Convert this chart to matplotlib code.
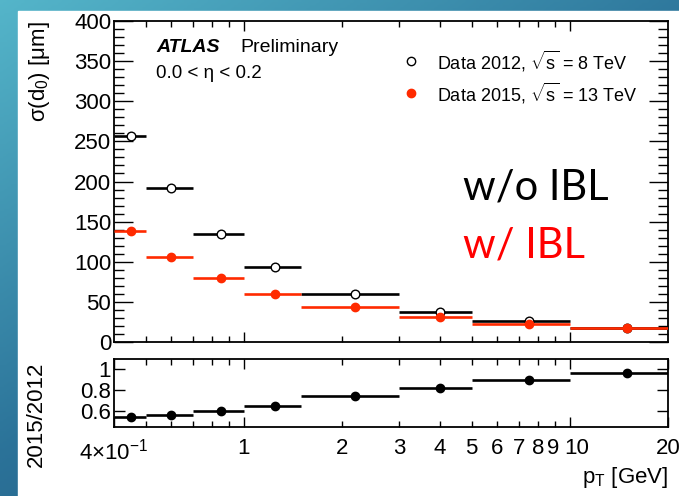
import numpy as np
import matplotlib
matplotlib.use("Agg")
import matplotlib.pyplot as plt
import matplotlib.transforms as mtrans
from matplotlib.ticker import FixedLocator, NullFormatter, FixedFormatter
from matplotlib.colors import LinearSegmentedColormap

# ---- data ----
bin_lo = [0.4, 0.5, 0.7, 1.0, 1.5, 3.0, 5.0, 10.0]
bin_hi = [0.5, 0.7, 1.0, 1.5, 3.0, 5.0, 10.0, 20.0]
x_pts = [0.45, 0.6, 0.85, 1.25, 2.2, 4.0, 7.5, 15.0]
data2012 = [257, 192, 135, 94, 60, 38, 26, 17.5]
data2015 = [138, 106, 80, 60, 44, 31, 23, 17]
ratio = [0.54, 0.56, 0.60, 0.645, 0.74, 0.82, 0.90, 0.965]
ratio_err = [0, 0, 0, 0, 0, 0, 0, 0.025]

W, H = 679, 496
fig = plt.figure(figsize=(W/100, H/100), dpi=100)
plt.rcParams['font.family'] = ['Liberation Sans', 'DejaVu Sans']
plt.rcParams['mathtext.fontset'] = 'custom'
plt.rcParams['mathtext.rm'] = 'Liberation Sans'
plt.rcParams['mathtext.it'] = 'Liberation Sans:italic'

# background gradient
bg = fig.add_axes([0, 0, 1, 1], zorder=-10)
yy, xx = np.mgrid[0:1:200j, 0:1:200j]
t = 0.55 * yy + 0.45 * xx
cmap = LinearSegmentedColormap.from_list('bg', [(0.33, 0.71, 0.79), (0.17, 0.45, 0.60), (0.12, 0.30, 0.46)])
bg.imshow(t, cmap=cmap, extent=[0, 1, 0, 1], aspect='auto', origin='upper', vmin=0, vmax=1)
bg.add_patch(plt.Rectangle((18/W, 0), 1, 1 - 10.5/H, color='white', transform=bg.transAxes))
bg.set_xlim(0, 1); bg.set_ylim(0, 1)
bg.axis('off')

def fx(px): return px / W
def fy(py): return 1 - py / H

L, R = 114, 668
ax = fig.add_axes([fx(L), fy(342), fx(R) - fx(L), fy(21) - fy(342)])
axr = fig.add_axes([fx(L), fy(427), fx(R) - fx(L), fy(359) - fy(427)])

red = '#ff2a00'
lo = np.array(bin_lo); hi = np.array(bin_hi); xp = np.array(x_pts)
xerr = [xp - lo, hi - xp]
lw = 1.9

ax.errorbar(x_pts, data2012, xerr=xerr, fmt='o', color='black', mfc='white', mec='black',
            ms=6.2, mew=1.0, elinewidth=lw, capsize=0, zorder=3)
ax.errorbar(x_pts, data2015, xerr=xerr, fmt='o', color=red, ms=6, mec=red,
            elinewidth=lw, capsize=0, zorder=4)

axr.errorbar(x_pts, ratio, xerr=xerr, yerr=ratio_err, fmt='o', color='black', ms=6,
             elinewidth=lw, capsize=0)

for a in (ax, axr):
    a.set_xscale('log')
    a.set_xlim(0.4, 20)
    for s in a.spines.values():
        s.set_linewidth(1.3)
    a.tick_params(which='both', direction='in', top=True, right=True, width=1.0, colors='black')

ax.set_ylim(0, 400)
ax.yaxis.set_major_locator(FixedLocator(np.arange(0, 401, 50)))
ax.yaxis.set_minor_locator(FixedLocator(np.arange(0, 401, 10)))
ax.tick_params(axis='y', which='major', length=14, labelsize=16, pad=2)
ax.tick_params(axis='y', which='minor', length=7)

xmaj = [1, 10]
xmin = [0.5, 0.6, 0.7, 0.8, 0.9, 2, 3, 4, 5, 6, 7, 8, 9]
for a in (ax, axr):
    a.xaxis.set_major_locator(FixedLocator(xmaj))
    a.xaxis.set_minor_locator(FixedLocator(xmin))
    a.tick_params(axis='x', which='major', length=7)
    a.tick_params(axis='x', which='minor', length=4)
ax.xaxis.set_major_formatter(NullFormatter())
ax.xaxis.set_minor_formatter(NullFormatter())

axr.set_ylim(0.44, 1.1)
axr.yaxis.set_major_locator(FixedLocator([0.6, 0.8, 1.0]))
axr.yaxis.set_major_formatter(FixedFormatter(['0.6', '0.8', '1']))
axr.yaxis.set_minor_locator(FixedLocator([]))
axr.tick_params(axis='y', which='major', length=8, labelsize=16, pad=2)
axr.xaxis.set_major_locator(FixedLocator([0.4, 1, 10, 20]))
axr.xaxis.set_major_formatter(FixedFormatter([r'4$\times$10$^{-1}$', '1', '10', '20']))
axr.xaxis.set_minor_locator(FixedLocator(xmin))
axr.xaxis.set_minor_formatter(FixedFormatter(['', '', '', '', '', '2', '3', '4', '5', '6', '7', '8', '9']))
axr.tick_params(axis='x', which='both', labelsize=16, pad=8)
axr.tick_params(axis='x', which='major', length=7)
axr.tick_params(axis='x', which='minor', length=4)

fig.canvas.draw()
labs = axr.xaxis.get_majorticklabels()
shift = mtrans.ScaledTranslation(7/100, 0, fig.dpi_scale_trans)
labs[2].set_transform(labs[2].get_transform() + shift)
mlabs = axr.xaxis.get_minorticklabels()
shift9 = mtrans.ScaledTranslation(-2/100, 0, fig.dpi_scale_trans)
mlabs[12].set_transform(mlabs[12].get_transform() + shift9)

# axis labels
fig.text(fx(40), fy(72), '\u03c3(d$_{0}$) [\u03bcm]', rotation=90, ha='center', va='center', fontsize=16)
fig.text(fx(36), fy(414), '2015/2012', rotation=90, ha='center', va='center', fontsize=16)
fig.text(fx(668), fy(478), r'p$_{\mathrm{T}}$ [GeV]', ha='right', va='center', fontsize=16)

# annotations
fig.text(fx(156), fy(48), 'ATLAS', fontsize=14, fontweight='bold', style='italic', va='center')
fig.text(fx(240), fy(48), 'Preliminary', fontsize=14, va='center')
fig.text(fx(156), fy(74), '0.0 < \u03b7 < 0.2', fontsize=13.5, va='center')

ax.plot([fx(411)], [fy(61)], 'o', transform=fig.transFigure, ms=6, mfc='white', mec='black', clip_on=False)
ax.plot([fx(411)], [fy(93)], 'o', transform=fig.transFigure, ms=6, color=red, clip_on=False)
fig.text(fx(437), fy(61), r'Data 2012, $\sqrt{\mathrm{s}}$ = 8 TeV', fontsize=13, va='center')
fig.text(fx(437), fy(93), r'Data 2015, $\sqrt{\mathrm{s}}$ = 13 TeV', fontsize=13, va='center')

fig.text(fx(463), fy(188), 'w/o IBL', fontsize=30, family=['Lato', 'DejaVu Sans'], va='center', color='black')
fig.text(fx(463), fy(245), 'w/ IBL', fontsize=30, family=['Lato', 'DejaVu Sans'], va='center', color='#ff0000')

fig.savefig('out.png', dpi=100)
